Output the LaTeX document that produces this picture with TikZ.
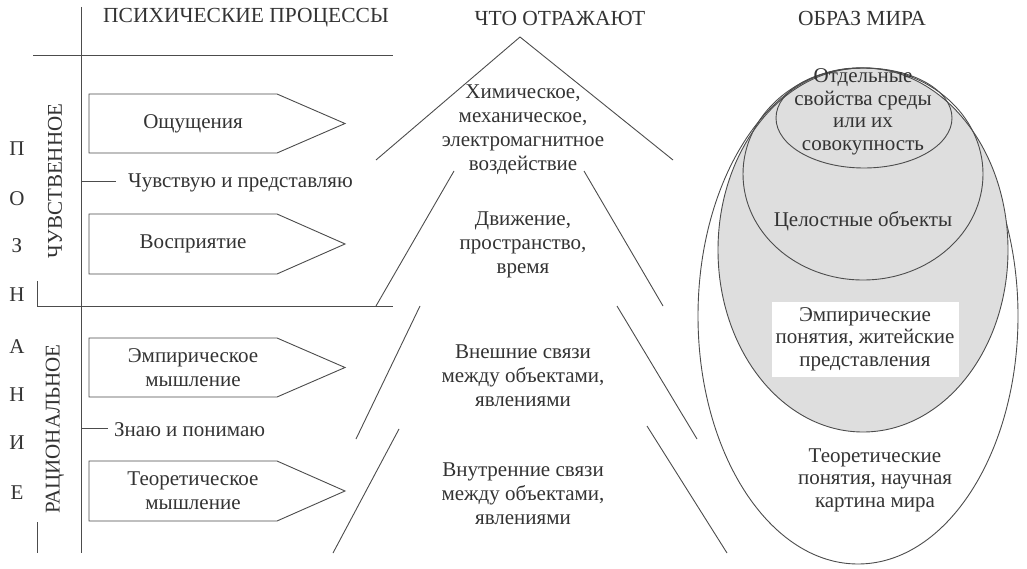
\documentclass[tikz,border=0pt]{standalone}
\usepackage{fontspec}
\setmainfont{Liberation Serif}
\begin{document}
\begin{tikzpicture}[x=1pt,y=-1pt,
  ln/.style={draw=black!70,line width=0.9pt},
  txt/.style={font=\fontsize{21}{24}\selectfont,text=black!80,align=center,inner sep=0pt},
  hdr/.style={font=\fontsize{21.5}{24}\selectfont,text=black!80,inner sep=0pt},
  pent/.style={ln,fill=white}]
\useasboundingbox (0,0) rectangle (1027,569);
% left frame
\draw[ln] (81,7) -- (81,553);
\draw[ln] (33,55) -- (393,55);
\draw[ln] (37,281) -- (37,306) -- (393,306);
\draw[ln] (37,522) -- (37,553);
\coordinate (t1) at (81,181); \coordinate (t1e) at (116,181);
\coordinate (t2) at (81,428); \coordinate (t2e) at (108,428);
\draw[ln] (t1) -- (t1e);
\draw[ln] (t2) -- (t2e);
\node[txt,anchor=west] (chuv) at (128,183) {Чувствую и представляю};
\node[txt,anchor=west] (znayu) at (114,430) {Знаю и понимаю};
% headers
\node[hdr] (h1) at (246,18) {ПСИХИЧЕСКИЕ ПРОЦЕССЫ};
\node[hdr] (h2) at (560,18) {ЧТО ОТРАЖАЮТ};
\node[hdr] (h3) at (862,18) {ОБРАЗ МИРА};
% pentagons
\foreach \n/\ya/\yb/\t in {p1/94/153/Ощущения, p2/214/274/Восприятие, p3/338/397/{Эмпирическое\\мышление}, p4/461/521/{Теоретическое\\мышление}}{
  \draw[pent] (89,\ya) -- (277,\ya) -- (345,{(\ya+\yb)/2}) -- (277,\yb) -- (89,\yb) -- cycle;
  \node[txt] (\n) at (193,{(\ya+\yb)/2}) {\t};
}
% ПОЗНАНИЕ
\foreach \l/\y in {П/149,О/199,З/246,Н/295,А/347,Н/395,И/443,Е/493}{
  \node[txt] at (17,\y) {\l};
}
\node[txt,rotate=90] (chv) at (55,181) {ЧУВСТВЕННОЕ};
\node[txt,rotate=90] (rac) at (55,429) {РАЦИОНАЛЬНОЕ};
% pyramid lines
\coordinate (apex) at (520,37);
\draw[ln] (376,160) -- (apex) -- (673,160);
\draw[ln] (454,171) -- (376,306);
\draw[ln] (584,171) -- (663,306);
\draw[ln] (420,306) -- (356,439);
\draw[ln] (617,306) -- (697,439);
\draw[ln] (399,429) -- (333,553);
\draw[ln] (647,426) -- (727,553);
\node[txt] (c1) at (523,130) {Химическое,\\механическое,\\электромагнитное\\воздействие};
\node[txt] (c2) at (523,245) {Движение,\\пространство,\\время};
\node[txt] (c3) at (523,376) {Внешние связи\\между объектами,\\явлениями};
\node[txt] (c4) at (523,494) {Внутренние связи\\между объектами,\\явлениями};
% ellipses
\draw[ln,fill=white] (858,316) ellipse [x radius=160,y radius=248];
\draw[ln,fill=black!13] (863,250) ellipse [x radius=145,y radius=182];
\draw[ln] (863,174) ellipse [x radius=120,y radius=106];
\draw[ln] (864,118) ellipse [x radius=88,y radius=50];
\node[txt,font=\fontsize{21}{22.5}\selectfont] (e1) at (863,112) {Отдельные\\свойства среды\\или их\\совокупность};
\node[txt] (e2) at (863,221) {Целостные объекты};
\node[fill=white,minimum width=187,minimum height=75,inner sep=0pt] (wb) at (865,339) {};
\node[txt,font=\fontsize{21}{22.5}\selectfont] (e3) at (865,339) {Эмпирические\\понятия, житейские\\представления};
\node[txt,font=\fontsize{21}{22.5}\selectfont] (e4) at (875,480) {Теоретические\\понятия, научная\\картина мира};
\end{tikzpicture}
\end{document}
